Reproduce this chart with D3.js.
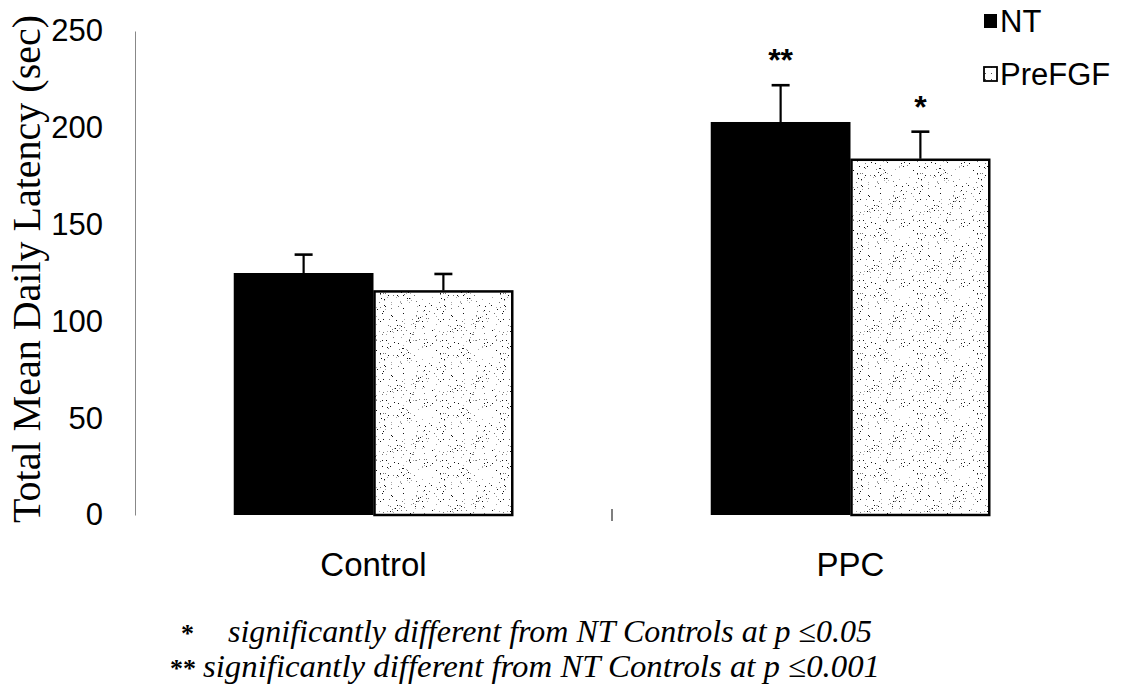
<!DOCTYPE html>
<html><head><meta charset="utf-8">
<script src="https://cdn.jsdelivr.net/npm/d3@7"></script>
<style>body{margin:0;background:#fff}svg{display:block}</style>
</head><body><svg id="c" width="1132" height="686"></svg>
<script>
const categories = ["Control", "PPC"];
const seriesNames = ["NT", "PreFGF"];
const ntValues = [125, 203];
const ntErrors = [9.5, 19];
const preValues = [116, 184];
const preErrors = [8.5, 14];
const sigMarks = [["", ""], ["**", "*"]];
const yTicks = [0, 50, 100, 150, 200, 250];
const yTitle = "Total Mean Daily Latency (sec)";
const footnotes = [["*", "significantly different from NT Controls at p \u22640.05"],
                   ["**", "significantly different from NT Controls at p \u22640.001"]];

const svg = d3.select("#c");
const x0 = d3.scaleBand().domain(categories).range([135, 1089]).paddingInner(0).paddingOuter(0);
const bandPad = 0.207;
const x1 = d3.scaleBand().domain(seriesNames).range([x0.bandwidth()*bandPad, x0.bandwidth()*(1-bandPad)]);
const y = d3.scaleLinear().domain([0, 250]).range([515, 31]);

// stipple pattern (texture only)
const defs = svg.append("defs");
const pat = defs.append("pattern").attr("id","stip").attr("patternUnits","userSpaceOnUse").attr("width",60).attr("height",60);
pat.append("rect").attr("width",60).attr("height",60).attr("fill","#fff");
let s = 12345;
function rnd(){ s = (s*1103515245 + 12345) % 2147483648; return s/2147483648; }
for (let i=0;i<170;i++){
  const g = rnd();
  pat.append("rect").attr("x",Math.floor(rnd()*60)).attr("y",Math.floor(rnd()*60)).attr("width",1).attr("height",1)
    .attr("fill", g<0.35 ? "#111" : (g<0.7 ? "#777" : "#aaa"));
}
const lp = defs.append("pattern").attr("id","stip2").attr("patternUnits","userSpaceOnUse").attr("width",6).attr("height",6);
lp.append("rect").attr("width",6).attr("height",6).attr("fill","#fff");
lp.append("rect").attr("x",1).attr("y",1).attr("width",1).attr("height",1).attr("fill","#555");

// y axis
const yAxis = d3.axisLeft(y).tickValues(yTicks).tickSize(0).tickPadding(32);
const gy = svg.append("g").attr("transform","translate(135,0)").call(yAxis);
gy.select(".domain").attr("stroke","#888").attr("stroke-width",1);
gy.selectAll("text").attr("font-family","Liberation Sans, Arial, sans-serif").attr("font-size",31).attr("fill","#000");

// x axis (no line, separator tick)
const xAxis = d3.axisBottom(x0).tickSize(0).tickPadding(38);
const gx = svg.append("g").attr("transform","translate(0,515)").call(xAxis);
gx.select(".domain").remove();
gx.selectAll("text").attr("font-family","Liberation Sans, Arial, sans-serif").attr("font-size",33).attr("fill","#000");
svg.append("line").attr("x1",x0.range()[0]+x0.step()).attr("x2",x0.range()[0]+x0.step())
  .attr("y1",y(0)-6).attr("y2",y(0)+6).attr("stroke","#555").attr("stroke-width",1.5);

// bars
const rows = categories.map((c,i)=>({c, vals:[
  {s:"NT", v:ntValues[i], e:ntErrors[i], m:sigMarks[i][0]},
  {s:"PreFGF", v:preValues[i], e:preErrors[i], m:sigMarks[i][1]}]}));
const g = svg.append("g");
const cat = g.selectAll("g.cat").data(rows).join("g").attr("transform",d=>`translate(${x0(d.c)},0)`);
cat.selectAll("line.err").data(d=>d.vals).join("line")
  .attr("x1",d=>x1(d.s)+x1.bandwidth()/2).attr("x2",d=>x1(d.s)+x1.bandwidth()/2)
  .attr("y1",d=>y(d.v)).attr("y2",d=>y(d.v+d.e)).attr("stroke","#000").attr("stroke-width",2.2);
cat.selectAll("line.cap").data(d=>d.vals).join("line")
  .attr("x1",d=>x1(d.s)+x1.bandwidth()/2-9).attr("x2",d=>x1(d.s)+x1.bandwidth()/2+9)
  .attr("y1",d=>y(d.v+d.e)).attr("y2",d=>y(d.v+d.e)).attr("stroke","#000").attr("stroke-width",2.6);
cat.selectAll("rect").data(d=>d.vals).join("rect")
  .attr("x",d=>x1(d.s)+(d.s==="PreFGF"?1:0)).attr("width",d=>x1.bandwidth()-(d.s==="PreFGF"?2:0))
  .attr("y",d=>y(d.v)+(d.s==="PreFGF"?1:0)).attr("height",d=>y(0)-y(d.v)-(d.s==="PreFGF"?1:0))
  .attr("fill",d=>d.s==="NT"?"#000":"url(#stip)")
  .attr("stroke","#000").attr("stroke-width",d=>d.s==="NT"?0:2.5);
cat.selectAll("text.sig").data(d=>d.vals.filter(v=>v.m)).join("text")
  .attr("x",d=>x1(d.s)+x1.bandwidth()/2).attr("y",d=>y(d.v+d.e)-14)
  .attr("text-anchor","middle").attr("font-family","Liberation Sans, Arial, sans-serif")
  .attr("font-size",32).attr("font-weight","bold").text(d=>d.m);

// y title
svg.append("text").attr("transform","translate(40,269) rotate(-90)").attr("text-anchor","middle")
  .attr("font-family","Liberation Serif, Times New Roman, serif").attr("font-size",40).text(yTitle);

// legend
const leg = svg.append("g").attr("font-family","Liberation Sans, Arial, sans-serif").attr("font-size",31);
seriesNames.forEach((n,i)=>{
  const ly = 21 + i*53;
  leg.append("rect").attr("x",984).attr("y",ly-7).attr("width",13).attr("height",14)
    .attr("fill", i===0?"#000":"url(#stip2)").attr("stroke","#000").attr("stroke-width",i===0?0:1.8);
  leg.append("text").attr("x",1000).attr("y",ly).attr("dy","0.36em").text(n);
});

// footnotes
const fn = svg.append("g").attr("font-family","Liberation Serif, Times New Roman, serif").attr("font-size",32).attr("font-style","italic");
footnotes.forEach((f,i)=>{
  const fy = 642 + i*35;
  fn.append("text").attr("x", i===0?181:170).attr("y",fy).attr("font-style","normal").attr("font-weight","bold").attr("font-size",26).text(f[0]);
  fn.append("text").attr("x", i===0?228:203).attr("y",fy).attr("textLength", i===0?644:677).attr("lengthAdjust","spacingAndGlyphs").text(f[1]);
});
</script></body></html>
